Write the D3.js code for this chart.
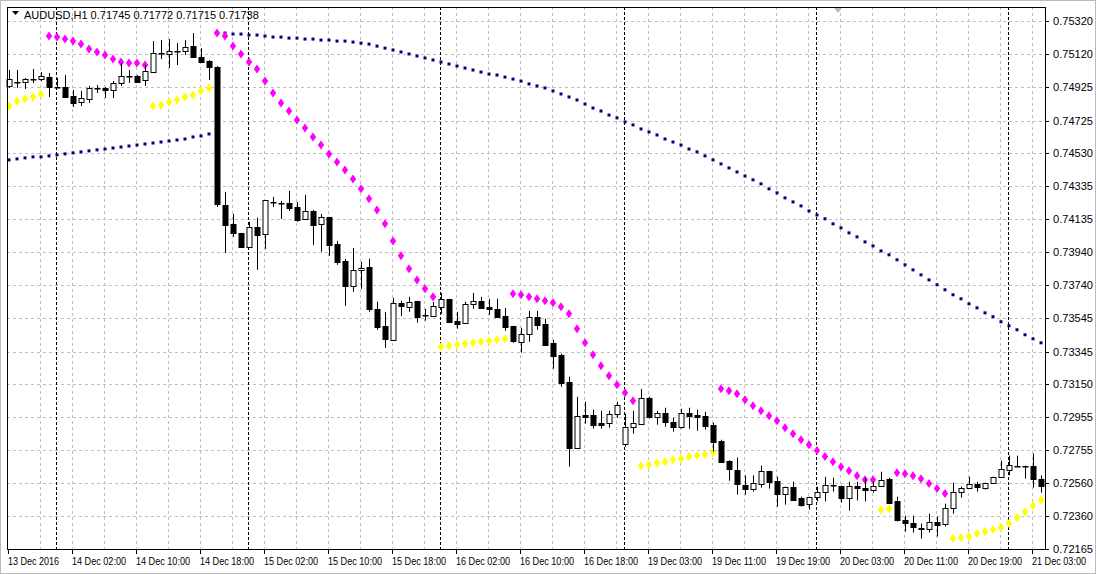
<!DOCTYPE html>
<html><head><meta charset="utf-8">
<script src="https://cdn.jsdelivr.net/npm/d3@7/dist/d3.min.js"></script>
<style>body{margin:0;background:#fff}svg{display:block;font-family:"Liberation Sans",Arial,sans-serif}</style>
</head><body><svg id="c" width="1096" height="574"></svg>
<script>
const opens=[0.74932,0.74955,0.74955,0.74973,0.74973,0.74985,0.74926,0.74926,0.74872,0.74836,0.74854,0.74920,0.74920,0.74908,0.74950,0.74991,0.74991,0.74967,0.75015,0.75129,0.75123,0.75141,0.75141,0.75170,0.75105,0.75081,0.75045,0.74221,0.74108,0.74054,0.73970,0.74090,0.74048,0.74239,0.74233,0.74233,0.74209,0.74137,0.74185,0.74108,0.74150,0.73988,0.73887,0.73738,0.73833,0.73851,0.73600,0.73499,0.73415,0.73636,0.73612,0.73648,0.73564,0.73558,0.73612,0.73660,0.73529,0.73517,0.73630,0.73648,0.73612,0.73600,0.73558,0.73499,0.73403,0.73451,0.73553,0.73511,0.73397,0.73326,0.73164,0.72770,0.72968,0.72968,0.72920,0.72920,0.72974,0.72794,0.72896,0.72914,0.73069,0.72956,0.72980,0.72926,0.72896,0.72980,0.72968,0.72962,0.72908,0.72812,0.72690,0.72640,0.72550,0.72526,0.72555,0.72633,0.72573,0.72496,0.72538,0.72472,0.72436,0.72478,0.72508,0.72550,0.72544,0.72472,0.72544,0.72532,0.72520,0.72544,0.72585,0.72449,0.72341,0.72323,0.72293,0.72287,0.72329,0.72317,0.72412,0.72508,0.72532,0.72555,0.72532,0.72561,0.72597,0.72639,0.72663,0.72663,0.72663,0.72585];
const highs=[0.75027,0.75027,0.74979,0.75033,0.75015,0.75009,0.74979,0.74997,0.74908,0.74902,0.74932,0.74938,0.74926,0.74961,0.75069,0.75027,0.74997,0.75057,0.75200,0.75206,0.75212,0.75188,0.75206,0.75248,0.75158,0.75087,0.75051,0.74299,0.74167,0.74054,0.74120,0.74145,0.74251,0.74269,0.74245,0.74305,0.74239,0.74281,0.74191,0.74167,0.74150,0.74006,0.73899,0.73964,0.73881,0.73899,0.73642,0.73582,0.73666,0.73648,0.73672,0.73648,0.73600,0.73642,0.73695,0.73660,0.73582,0.73642,0.73695,0.73672,0.73660,0.73660,0.73606,0.73499,0.73487,0.73588,0.73588,0.73541,0.73415,0.73332,0.73194,0.73075,0.73045,0.72997,0.72991,0.72991,0.73045,0.72974,0.72991,0.73122,0.73075,0.72991,0.73009,0.72950,0.73003,0.73009,0.72997,0.72985,0.72920,0.72818,0.72696,0.72711,0.72605,0.72605,0.72663,0.72633,0.72597,0.72538,0.72567,0.72478,0.72478,0.72538,0.72597,0.72591,0.72544,0.72567,0.72567,0.72591,0.72567,0.72627,0.72591,0.72478,0.72364,0.72364,0.72317,0.72376,0.72358,0.72436,0.72561,0.72538,0.72597,0.72567,0.72561,0.72597,0.72693,0.72723,0.72723,0.72663,0.72735,0.72605];
const lows=[0.74920,0.74920,0.74914,0.74950,0.74961,0.74866,0.74920,0.74860,0.74806,0.74812,0.74830,0.74890,0.74860,0.74860,0.74932,0.74950,0.74955,0.74932,0.75009,0.75093,0.75039,0.75057,0.75117,0.75105,0.75075,0.74967,0.74209,0.73935,0.74030,0.73970,0.73964,0.73833,0.73958,0.74209,0.74137,0.74185,0.74120,0.74131,0.73982,0.73941,0.73917,0.73863,0.73618,0.73702,0.73720,0.73582,0.73475,0.73367,0.73409,0.73558,0.73582,0.73517,0.73529,0.73558,0.73570,0.73517,0.73481,0.73511,0.73600,0.73600,0.73564,0.73547,0.73469,0.73397,0.73338,0.73403,0.73475,0.73385,0.73242,0.73134,0.72657,0.72770,0.72914,0.72884,0.72884,0.72890,0.72950,0.72776,0.72854,0.72914,0.72944,0.72908,0.72896,0.72866,0.72884,0.72884,0.72872,0.72878,0.72747,0.72684,0.72573,0.72490,0.72490,0.72508,0.72532,0.72526,0.72418,0.72430,0.72461,0.72418,0.72400,0.72449,0.72449,0.72508,0.72442,0.72394,0.72455,0.72449,0.72502,0.72544,0.72436,0.72329,0.72269,0.72263,0.72227,0.72263,0.72239,0.72299,0.72376,0.72472,0.72532,0.72508,0.72520,0.72555,0.72591,0.72605,0.72657,0.72585,0.72532,0.72502];
const closes=[0.74973,0.74955,0.74973,0.74973,0.74991,0.74926,0.74926,0.74866,0.74830,0.74860,0.74920,0.74920,0.74908,0.74950,0.74991,0.74991,0.74955,0.75021,0.75129,0.75129,0.75141,0.75141,0.75164,0.75105,0.75075,0.75045,0.74227,0.74102,0.74054,0.73970,0.74090,0.74042,0.74251,0.74239,0.74233,0.74203,0.74131,0.74185,0.74102,0.74150,0.73982,0.73881,0.73738,0.73833,0.73845,0.73600,0.73493,0.73421,0.73636,0.73618,0.73642,0.73553,0.73564,0.73618,0.73660,0.73523,0.73511,0.73630,0.73648,0.73606,0.73600,0.73553,0.73493,0.73409,0.73451,0.73553,0.73505,0.73385,0.73320,0.73158,0.72770,0.72962,0.72956,0.72908,0.72908,0.72974,0.73027,0.72896,0.72920,0.73069,0.72956,0.72980,0.72926,0.72896,0.72980,0.72962,0.72956,0.72902,0.72806,0.72684,0.72640,0.72555,0.72526,0.72561,0.72633,0.72567,0.72496,0.72538,0.72461,0.72430,0.72478,0.72508,0.72550,0.72550,0.72472,0.72544,0.72532,0.72520,0.72544,0.72579,0.72442,0.72335,0.72323,0.72299,0.72287,0.72329,0.72311,0.72412,0.72508,0.72532,0.72555,0.72538,0.72561,0.72597,0.72645,0.72669,0.72663,0.72663,0.72585,0.72544];
const sar=[0.74812,0.74842,0.74854,0.74866,0.74884,
0.75230,0.75224,0.75212,0.75200,0.75182,0.75152,0.75135,0.75117,0.75093,0.75075,0.75069,0.75069,0.75057,
0.74812,0.74818,0.74836,0.74848,0.74866,0.74878,0.74902,0.74920,
0.75248,0.75230,0.75170,0.75123,0.75075,0.75033,0.74961,0.74890,0.74830,0.74782,0.74729,0.74681,0.74627,0.74579,0.74526,0.74478,0.74430,0.74376,0.74317,0.74258,0.74191,0.74108,0.74006,0.73917,0.73839,0.73773,0.73720,0.73672,
0.73373,0.73379,0.73385,0.73391,0.73397,0.73403,0.73409,0.73415,0.73421,
0.73690,0.73684,0.73672,0.73660,0.73648,0.73636,0.73612,0.73570,0.73481,0.73397,0.73326,0.73260,0.73200,0.73147,0.73099,0.73051,
0.72663,0.72669,0.72681,0.72687,0.72699,0.72705,0.72717,0.72723,0.72729,0.72741,
0.73123,0.73111,0.73093,0.73057,0.73021,0.72991,0.72961,0.72932,0.72890,0.72854,0.72818,0.72788,0.72753,0.72717,0.72687,0.72657,0.72633,0.72603,0.72579,0.72579,
0.72400,0.72406,
0.72621,0.72615,0.72603,0.72585,0.72556,0.72526,0.72496,
0.72227,0.72233,0.72239,0.72257,0.72269,0.72281,0.72293,0.72317,0.72353,0.72388,0.72424,0.72460];
const ma=[0.74490,0.74496,0.74502,0.74508,0.74508,0.74514,0.74520,0.74526,0.74532,0.74538,0.74544,0.74550,0.74555,0.74561,0.74567,0.74573,0.74579,0.74585,0.74591,0.74597,0.74603,0.74609,0.74615,0.74627,0.74633,0.74645,
0.75248,0.75248,0.75242,0.75242,0.75236,0.75236,0.75230,0.75224,
0.75224,0.75218,0.75218,0.75212,0.75212,0.75206,0.75206,0.75200,0.75200,0.75194,0.75188,0.75182,
0.75170,0.75158,0.75147,0.75135,0.75123,0.75111,0.75099,0.75087,0.75075,
0.75063,0.75051,0.75039,0.75027,0.75015,0.75003,0.74997,0.74985,
0.74973,0.74961,0.74944,0.74932,0.74920,0.74902,0.74884,0.74866,
0.74848,0.74824,0.74800,0.74782,0.74758,0.74741,0.74717,
0.74699,0.74675,0.74657,0.74639,0.74615,0.74597,0.74579,0.74555,0.74538,
0.74514,0.74490,0.74466,0.74442,0.74418,0.74394,0.74371,
0.74347,0.74317,0.74293,0.74263,0.74239,0.74215,0.74185,0.74161,
0.74138,0.74108,0.74084,0.74054,0.74030,0.74000,0.73976,0.73946,0.73923,
0.73893,0.73863,0.73833,0.73803,0.73773,0.73744,0.73714,0.73684,
0.73660,0.73630,0.73606,0.73576,0.73553,0.73523,
0.73499,0.73475,0.73445,0.73421,0.73397];
const priceTicks=[0.75320,0.75120,0.74925,0.74725,0.74530,0.74335,0.74135,0.73940,0.73740,0.73545,0.73345,0.73150,0.72955,0.72755,0.72560,0.72360,0.72165];
const timeLabels=["13 Dec 2016","14 Dec 02:00","14 Dec 10:00","14 Dec 18:00","15 Dec 02:00","15 Dec 10:00","15 Dec 18:00","16 Dec 02:00","16 Dec 10:00","16 Dec 18:00","19 Dec 03:00","19 Dec 11:00","19 Dec 19:00","20 Dec 03:00","20 Dec 11:00","20 Dec 19:00","21 Dec 03:00"];
const daySeparators=[6,30,54,77,101,125];
const header="AUDUSD,H1  0.71745 0.71772 0.71715 0.71738";

const svg=d3.select("#c");
const L=7,R=1045,T=7,B=549;
const x=d3.scaleLinear().domain([0,129]).range([9,1041]);
const y=d3.scaleLinear().domain([0.72165,0.75320]).range([549,21]);
const idx=d3.range(opens.length);

svg.append("rect").attr("x",0.5).attr("y",0.5).attr("width",1095).attr("height",573).attr("fill","#fff").attr("stroke","#bbb");
const g=svg.append("g");
g.selectAll(".hg").data(priceTicks).join("line").attr("x1",L).attr("x2",R).attr("y1",d=>Math.round(y(d))+0.5).attr("y2",d=>Math.round(y(d))+0.5).attr("stroke","#c0c0c0").attr("stroke-dasharray","3,3");
g.selectAll(".vg").data(d3.range(4,130,4)).join("line").attr("x1",d=>Math.round(x(d))-0.5).attr("x2",d=>Math.round(x(d))-0.5).attr("y1",T).attr("y2",B).attr("stroke","#c0c0c0").attr("stroke-dasharray","3,3");
g.selectAll(".ds").data(daySeparators).join("line").attr("x1",d=>Math.round(x(d))-0.5).attr("x2",d=>Math.round(x(d))-0.5).attr("y1",T).attr("y2",B).attr("stroke","#000").attr("stroke-dasharray","3,2");
g.selectAll(".ma").data(idx).join("rect").attr("x",i=>x(i)-1.5).attr("y",i=>y(ma[i])-1.5).attr("width",3).attr("height",3).attr("fill","#000080");
g.selectAll(".sar").data(idx).join("path").attr("d",i=>{const cx=x(i),cy=y(sar[i]);return `M${cx},${cy-4.5}L${cx+3.2},${cy}L${cx},${cy+4.5}L${cx-3.2},${cy}Z`;})
 .attr("fill",i=>sar[i]>closes[i]?"#ff00ff":"#ffff00");
const c=g.selectAll(".cd").data(idx).join("g");
c.append("line").attr("x1",i=>Math.round(x(i))+0.5).attr("x2",i=>Math.round(x(i))+0.5).attr("y1",i=>y(highs[i])).attr("y2",i=>y(lows[i])).attr("stroke","#000");
c.append("rect").attr("x",i=>Math.round(x(i))-2).attr("width",5)
 .attr("y",i=>Math.round(y(Math.max(opens[i],closes[i])))+0.5)
 .attr("height",i=>Math.max(0.5,Math.round(Math.abs(y(opens[i])-y(closes[i])))))
 .attr("fill",i=>closes[i]<opens[i]?"#000":"#fff").attr("stroke","#000");
svg.append("rect").attr("x",L+0.5).attr("y",T+0.5).attr("width",R-L).attr("height",B-T).attr("fill","none").attr("stroke","#000");
const ra=svg.append("g");
ra.selectAll("line").data(priceTicks).join("line").attr("x1",R).attr("x2",R+4).attr("y1",d=>Math.round(y(d))+0.5).attr("y2",d=>Math.round(y(d))+0.5).attr("stroke","#000");
ra.selectAll("text").data(priceTicks).join("text").attr("x",R+8).attr("y",d=>y(d)+4).attr("font-size",11).attr("textLength",40).attr("lengthAdjust","spacingAndGlyphs").text(d=>d.toFixed(5));
const ba=svg.append("g");
ba.selectAll("line").data(timeLabels).join("line").attr("x1",(d,k)=>Math.round(x(8*k))-0.5).attr("x2",(d,k)=>Math.round(x(8*k))-0.5).attr("y1",B).attr("y2",B+5).attr("stroke","#000");
ba.selectAll("text").data(timeLabels).join("text").attr("x",(d,k)=>x(8*k)-1).attr("y",B+16).attr("font-size",10.5).attr("textLength",(d,k)=>k===0?51:54).attr("lengthAdjust","spacingAndGlyphs").text(d=>d);
svg.append("path").attr("d","M12,11L19,11L15.5,15Z").attr("fill","#000");
svg.append("text").attr("x",24).attr("y",19).attr("font-size",11).text(header);
svg.append("path").attr("d","M834,8L842,8L838,13Z").attr("fill","#bbb");
</script></body></html>
